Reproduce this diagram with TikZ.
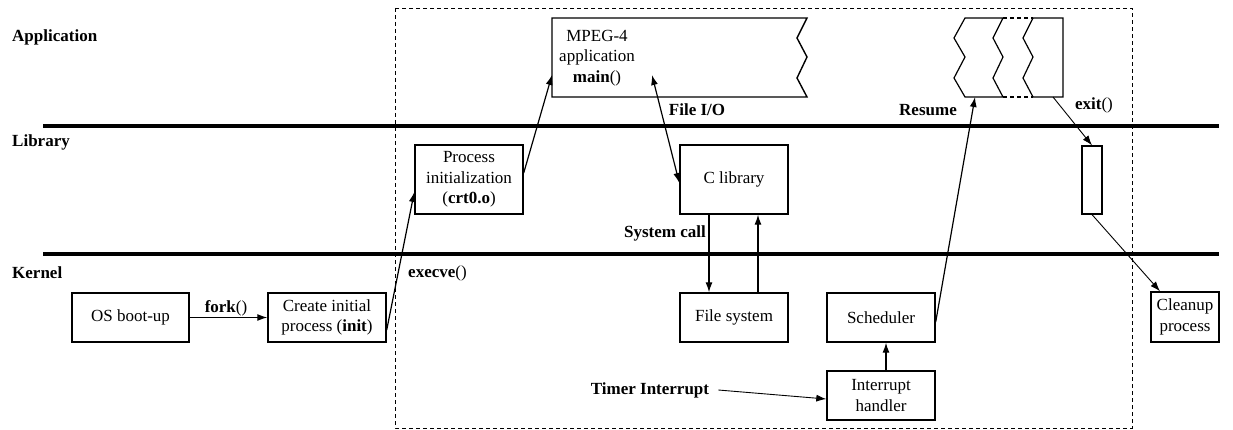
\documentclass[tikz,border=0pt]{standalone}
\usepackage{fontspec}
\setmainfont{Liberation Serif}
\usetikzlibrary{arrows.meta,calc}
\begin{document}
\begin{tikzpicture}[x=1pt,y=-1pt,
  txt/.style={font=\fontsize{17}{20.5}\selectfont, inner sep=0pt, align=center},
  lbl/.style={font=\fontsize{17}{20.5}\selectfont\bfseries, inner sep=0pt},
  box/.style={txt, draw, line width=1.4pt, minimum width=108pt, minimum height=49pt},
  arr/.style={line width=1.2pt, -{Latex[length=10pt,width=7pt]}},
  tarr/.style={line width=0.9pt, -{Latex[length=10pt,width=7pt]}},
  layerline/.style={line width=3.5pt},
  frame/.style={line width=0.9pt, dash pattern=on 4pt off 3pt}
]
\useasboundingbox (0,0) rectangle (1233,430);

% layer separators and frame
\draw[layerline] (43,126) -- (1219,126);
\draw[layerline] (43,254) -- (1219,254);
\draw[frame] (395,8) rectangle (1132,428);

% layer labels
\node[lbl, anchor=west] (lapp) at (12,37) {Application};
\node[lbl, anchor=west] (llib) at (12,142) {Library};
\node[lbl, anchor=west] (lker) at (12,273) {Kernel};

% boxes
\node[box, minimum width=117pt] (osboot) at (130.5,317.5) {OS boot-up};
\node[box, minimum width=118pt] (create) at (327,317.5) {Create initial\\process (\textbf{init})};
\node[box, minimum height=69pt] (procinit) at (469,179.5) {Process\\initialization\\(\textbf{crt0.o})};
\node[box, minimum height=69pt] (clib) at (734,179.5) {C library};
\node[box] (fs) at (734,317.5) {File system};
\node[box] (sched) at (881,317.5) {Scheduler};
\node[box] (ih) at (881,395.5) {Interrupt\\handler};
\node[box, minimum width=68pt, minimum height=50pt] (cleanup) at (1185,317) {Cleanup\\process};
\node[draw, line width=1.2pt, minimum width=20pt, minimum height=68pt, inner sep=0pt] (small) at (1092,180) {};

% MPEG-4 application (torn box)
\draw[line width=1.4pt, line join=miter] (552,18) -- (807,18) -- (797,38) -- (807,57) -- (797,78) -- (807,97) -- (552,97) -- cycle;
\node[txt] (mpeg) at (597,58) {MPEG-4\\application\\\textbf{main}()};

% resumed process fragments
\draw[line width=1.2pt] (965,18) -- (1003,18) -- (993,38) -- (1003,57) -- (993,78) -- (1003,97) -- (965,97) -- (954,78) -- (965,57) -- (954,38) -- cycle;
\draw[line width=1.2pt, dash pattern=on 4pt off 3pt] (1003,18) -- (1033,18) (1003,97) -- (1033,97);
\draw[line width=1.2pt] (1033,18) -- (1063,18) -- (1063,97) -- (1033,97) -- (1023,78) -- (1033,57) -- (1023,38) -- cycle;

% named connector ends
\coordinate (mpegIn) at (552,75);
\coordinate (fileIO) at (652,75);
\coordinate (resumeIn) at (975,97);
\coordinate (exitOut) at (1053,97);

% connectors
\draw[arr] (osboot.east) -- (create.west);
\node[lbl] (forkl) at (226,308) {fork\mdseries()};

\draw[arr] ([yshift=-12.5pt]create.east) -- ([yshift=-12.5pt]procinit.west);
\node[lbl, anchor=west] (execl) at (408,273) {execve\mdseries()};

\draw[arr] ([yshift=6.5pt]procinit.east) -- (mpegIn);

\draw[line width=1.2pt, {Latex[length=10pt,width=7pt]}-{Latex[length=10pt,width=7pt]}] (fileIO) -- ([yshift=-3.5pt]clib.west);
\node[lbl] (fiol) at (697,110) {File I/O};

\draw[arr] ([xshift=-25pt]clib.south) -- ([xshift=-25pt]fs.north);
\draw[arr] ([xshift=24pt]fs.north) -- ([xshift=24pt]clib.south);
\node[lbl] (sysl) at (665,233) {System call};

\draw[arr] ([xshift=5pt]ih.north) -- ([xshift=5pt]sched.south);

\node[lbl] (timer) at (650,390) {Timer Interrupt};
\draw[tarr] ([xshift=9pt]timer.east) -- ([yshift=-3.5pt]ih.west);

\draw[arr] ([yshift=-4.5pt]sched.east) -- (resumeIn);
\node[lbl] (resl) at (928,110) {Resume};

\draw[tarr] (exitOut) -- (small.north);
\node[lbl] (exitl) at (1094,105) {exit\mdseries()};

\draw[tarr] (small.south) -- ([xshift=-25pt]cleanup.north);
\end{tikzpicture}
\end{document}
